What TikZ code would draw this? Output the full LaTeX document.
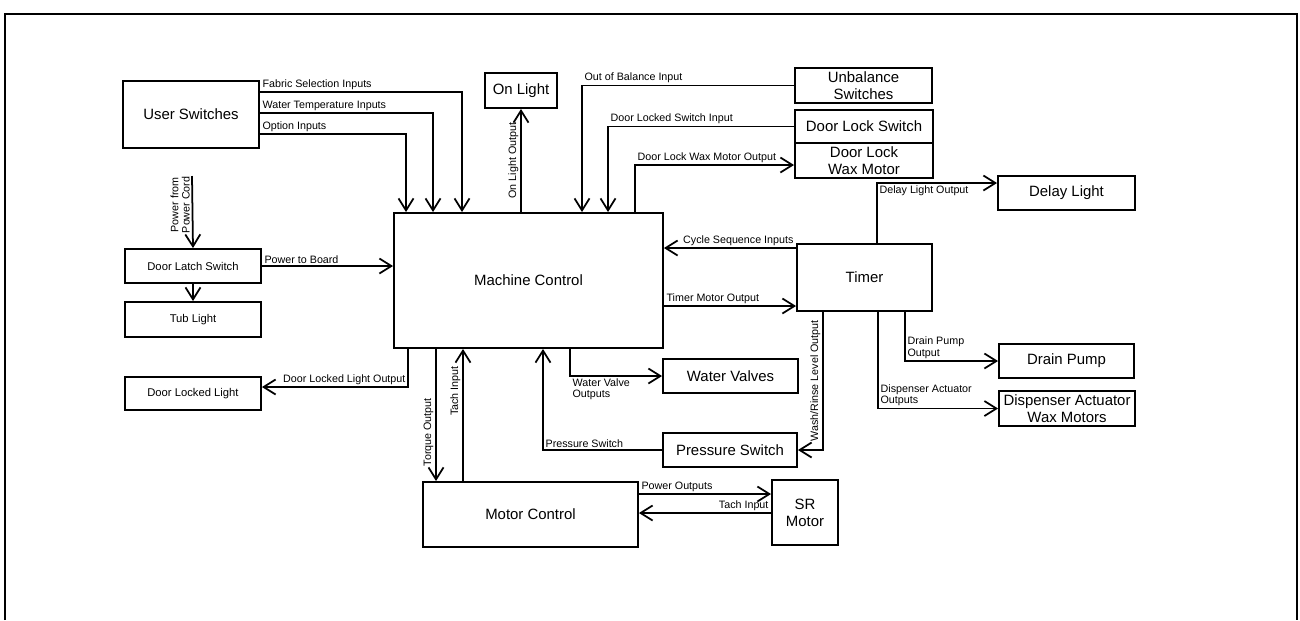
\documentclass[tikz,border=0pt]{standalone}
\usepackage{fontspec}
\setmainfont{Liberation Sans}
\usepackage{tikz}
\usetikzlibrary{
  positioning,
  arrows.meta
}

\begin{document}
\begin{tikzpicture}[x=0.02cm,y=-0.02cm,>={Straight Barb[length=2.4mm,width=3mm]},
    box/.style={draw,line width=1.1pt,align=center,inner sep=1pt,font=\fontsize{8.5}{9.6}\selectfont},
    smallbox/.style={box,font=\fontsize{6.4}{7.5}\selectfont},
    lbl/.style={font=\fontsize{6.1}{6.4}\selectfont,inner sep=1pt,align=left},
    wire/.style={line width=1pt}]
            \useasboundingbox (0,0) rectangle (1300,620);
            \draw[line width=1.2pt] (5,620) -- (5,14) -- (1297,14) -- (1297,620);
            % boxes
            \node[box,minimum width=2.72cm,minimum height=1.34cm] (us) at (191,114.5) {User Switches};
            \node[box,minimum width=1.44cm,minimum height=0.7cm] (onl) at (521,90.5) {On Light};
            \node[box,minimum width=2.74cm,minimum height=0.7cm] (unb) at (863.5,85.5) {Unbalance\\Switches};
            \node[box,minimum width=2.76cm,minimum height=0.66cm] (dls) at (864,126.5) {Door Lock Switch};
            \node[box,minimum width=2.76cm,minimum height=0.7cm] (dlw) at (864,160.5) {Door Lock\\Wax Motor};
            \node[box,minimum width=2.74cm,minimum height=0.68cm] (dly) at (1066.5,193) {Delay Light};
            \node[box,minimum width=5.38cm,minimum height=2.7cm] (mc) at (528.5,280.5) {Machine Control};
            \node[box,minimum width=2.7cm,minimum height=1.34cm] (tmr) at (864.5,277.5) {Timer};
            \node[smallbox,minimum width=2.72cm,minimum height=0.68cm] (dlatch) at (193,266) {Door Latch Switch};
            \node[smallbox,minimum width=2.72cm,minimum height=0.7cm] (tub) at (193,319.5) {Tub Light};
            \node[smallbox,minimum width=2.72cm,minimum height=0.66cm] (dll) at (193,393.5) {Door Locked Light};
            \node[box,minimum width=2.7cm,minimum height=0.68cm] (wv) at (730.5,376) {Water Valves};
            \node[box,minimum width=2.68cm,minimum height=0.68cm] (ps) at (730,450) {Pressure Switch};
            \node[box,minimum width=2.7cm,minimum height=0.68cm] (dp) at (1066.5,361) {Drain Pump};
            \node[box,minimum width=2.72cm,minimum height=0.7cm] (dis) at (1067,408.5) {Dispenser Actuator\\Wax Motors};
            \node[box,minimum width=4.3cm,minimum height=1.3cm] (moc) at (530.5,514.5) {Motor Control};
            \node[box,minimum width=1.32cm,minimum height=1.3cm] (sr) at (805,512.5) {SR\\Motor};
            \coordinate (cord) at (192,176);
            % user switches into machine control
            \draw[wire,->] (us.east |- 0,92) node[lbl,above right] {Fabric Selection Inputs} -| (mc.north -| 462,0);
            \draw[wire,->] (us.east |- 0,113) node[lbl,above right] {Water Temperature Inputs} -| (mc.north -| 433,0);
            \draw[wire,->] (us.east |- 0,134) node[lbl,above right] {Option Inputs} -| (mc.north -| 406,0);
            \draw[wire,->] (mc.north -| onl.south) -- node[lbl,rotate=90,anchor=south] {On Light Output} (onl.south);
            \draw[wire,->] (unb.west) -| node[pos=0.5,lbl,anchor=south west] {Out of Balance Input} (mc.north -| 582,0);
            \draw[wire,->] (dls.west) -| node[pos=0.5,lbl,anchor=south west] {Door Locked Switch Input} (mc.north -| 608,0);
            \draw[wire,->] (mc.north -| 635,0) |- node[pos=0.5,lbl,anchor=south west] {Door Lock Wax Motor Output} (dlw.west |- 0,165);
            % timer
            \draw[wire,->] (tmr.north -| 877,0) |- node[pos=0.5,lbl,anchor=north west] {Delay Light Output} (dly.west |- 0,183);
            \draw[wire,->] (tmr.west |- 0,248) node[lbl,above left] {Cycle Sequence Inputs} -- (mc.east |- 0,248);
            \draw[wire,->] (mc.east |- 0,306) node[lbl,above right] {Timer Motor Output} -- (tmr.west |- 0,306);
            \draw[wire,->] (tmr.south -| 823,0) |- node[pos=0.25,lbl,rotate=90,anchor=south] {Wash/Rinse Level Output} (ps.east);
            \draw[wire,->] (tmr.south -| 905,0) |- node[pos=0.5,lbl,anchor=south west] {Drain Pump\\Output} (dp.west);
            \draw[wire,->] (tmr.south -| 878,0) |- node[pos=0.5,lbl,anchor=south west] {Dispenser Actuator\\Outputs} (dis.west);
            % power and lights
            \draw[wire,->] (cord) -- node[pos=0.4,lbl,rotate=90,anchor=south,align=center] {Power from\\Power Cord} (dlatch.north);
            \draw[wire,->] (dlatch.east) node[lbl,above right] {Power to Board} -- (mc.west |- dlatch.east);
            \draw[wire,->] (dlatch.south) -- (tub.north);
            \draw[wire,->] (mc.south -| 408,0) |- node[pos=0.5,lbl,anchor=south east] {Door Locked Light Output} (dll.east |- 0,387);
            % lower part
            \draw[wire,->] (mc.south -| 570,0) |- node[pos=0.5,lbl,anchor=north west] {Water Valve\\Outputs} (wv.west);
            \draw[wire,->] (ps.west) -| node[pos=0.5,lbl,anchor=south west] {Pressure Switch} (mc.south -| 543,0);
            \draw[wire,->] (mc.south -| 436,0) -- node[pos=0.63,lbl,rotate=90,anchor=south] {Torque Output} (moc.north -| 436,0);
            \draw[wire,->] (moc.north -| 463,0) -- node[pos=0.68,lbl,rotate=90,anchor=south] {Tach Input} (mc.south -| 463,0);
            \draw[wire,->] (moc.east |- 0,494) node[lbl,above right] {Power Outputs} -- (sr.west |- 0,494);
            \draw[wire,->] (sr.west |- 0,513) node[lbl,above left] {Tach Input} -- (moc.east |- 0,513);
        \end{tikzpicture}
\end{document}
